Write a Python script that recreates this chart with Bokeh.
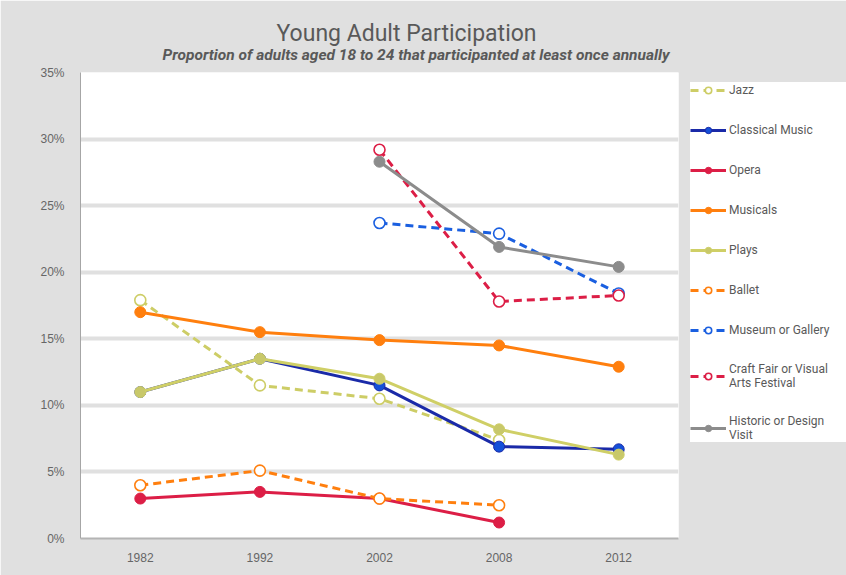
from bokeh.plotting import figure
from bokeh.models import (FactorRange, Range1d, Legend, LegendItem, Title,
                          FixedTicker, PrintfTickFormatter)
from bokeh.embed import file_html
from bokeh.resources import INLINE

years = ["1982", "1992", "2002", "2008", "2012"]

jazz = [17.9, 11.5, 10.5, 7.4, None]
classical = [11.0, 13.5, 11.5, 6.9, 6.7]
opera = [3.0, 3.5, 3.0, 1.2, None]
musicals = [17.0, 15.5, 14.9, 14.5, 12.9]
plays = [11.0, 13.5, 12.0, 8.2, 6.3]
ballet = [4.0, 5.1, 3.0, 2.5, None]
museum = [None, None, 23.7, 22.9, 18.4]
craft = [None, None, 29.2, 17.8, 18.25]
historic = [None, None, 28.3, 21.9, 20.4]

series = [
    ("Jazz", jazz, "#cdcd66", "#cdcd66", True),
    ("Classical Music", classical, "#1a2aa8", "#1450d8", False),
    ("Opera", opera, "#dc1e46", "#dc1e46", False),
    ("Musicals", musicals, "#ff7f0e", "#ff7f0e", False),
    ("Plays", plays, "#cfcf66", "#c8c86a", False),
    ("Ballet", ballet, "#ff7f0e", "#ff7f0e", True),
    ("Museum or Gallery", museum, "#1a5fe0", "#1a5fe0", True),
    ("Craft Fair or Visual\nArts Festival", craft, "#dc1e46", "#dc1e46", True),
    ("Historic or Design\nVisit", historic, "#8c8c8c", "#8c8c8c", False),
]

BG = "#e0e0e0"

p = figure(x_range=FactorRange(*years, range_padding=0), y_range=Range1d(0, 35),
           frame_width=598, frame_height=466,
           min_border_left=80, min_border_right=168,
           min_border_top=72, min_border_bottom=37,
           output_backend="svg", toolbar_location=None, title=None)
p.background_fill_color = "white"
p.border_fill_color = BG
p.outline_line_color = None

p.add_layout(Title(text="Proportion of adults aged 18 to 24 that participanted at least once annually",
                   align="left", offset=82, text_font="Roboto", text_font_size="15.5px",
                   text_font_style="bold italic", text_color="#595959", standoff=17), "above")
p.add_layout(Title(text="Young Adult Participation", align="left", offset=196,
                   text_font="Roboto", text_font_size="23px", text_font_style="normal",
                   text_color="#595959", standoff=-22), "above")

# axes
p.yaxis.ticker = FixedTicker(ticks=[0, 5, 10, 15, 20, 25, 30, 35])
p.yaxis.formatter = PrintfTickFormatter(format="%d%%")
p.yaxis.axis_line_color = "#a6a6a6"
p.yaxis.axis_line_width = 1
p.yaxis.major_tick_line_color = None
p.yaxis.minor_tick_line_color = None
p.yaxis.major_label_standoff = 10
p.xaxis.axis_line_color = "#b4b4b4"
p.xaxis.axis_line_width = 2
p.xaxis.major_tick_line_color = None
p.xaxis.minor_tick_line_color = None
p.xaxis.major_label_standoff = 8
for ax in (p.xaxis, p.yaxis):
    ax.major_label_text_font = "Liberation Sans"
    ax.major_label_text_font_size = "12px"
    ax.major_label_text_color = "#666666"

p.xgrid.grid_line_color = None
p.ygrid.ticker = FixedTicker(ticks=[5, 10, 15, 20, 25, 30])
p.ygrid.grid_line_color = BG
p.ygrid.grid_line_width = 4

items = []
for name, vals, lc, mc, dashed in series:
    xs = [y for y, v in zip(years, vals) if v is not None]
    ys = [v for v in vals if v is not None]
    r_line = p.line(xs, ys, line_color=lc, line_width=3,
                    line_dash="8 5" if dashed else "solid")
    if dashed:
        r_mark = p.scatter(xs, ys, marker="circle", size=11, fill_color="white",
                           line_color=mc, line_width=1.6)
    else:
        r_mark = p.scatter(xs, ys, marker="circle", size=11, fill_color=mc,
                           line_color=lc, line_width=1)
    items.append(LegendItem(label=name, renderers=[r_line, r_mark]))

legend = Legend(items=items, location=(12, 96), orientation="vertical",
                background_fill_color="white", background_fill_alpha=1.0,
                border_line_color=None, padding=10, spacing=24,
                glyph_width=36, glyph_height=16, label_height=16, label_width=120,
                label_standoff=3, label_text_font="Roboto",
                label_text_font_size="12px", label_text_color="#595959",
                label_text_line_height=1.0, margin=0)
p.add_layout(legend, "right")

open("out.html", "w").write(file_html(p, INLINE))
